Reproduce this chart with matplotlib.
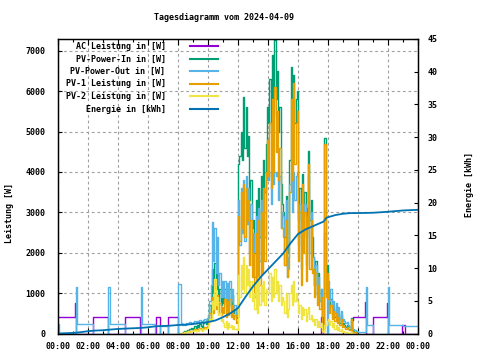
import numpy as np
import matplotlib.pyplot as plt

plt.rcParams['font.family'] = ['DejaVu Sans Mono']
plt.rcParams['font.weight'] = 'bold'

title = "Tagesdiagramm vom 2024-04-09"
labels = ["AC Leistung in [W]", "PV-Power-In in [W]", "PV-Power-Out in [W]",
          "PV-1 Leistung in [W]", "PV-2 Leistung in [W]", "Energie in [kWh]"]
colors = ["#9400d3", "#009e73", "#56b4e9", "#e69f00", "#f0e442", "#0072b2"]
xtick_hours = list(range(0, 25, 2))
xtick_labels = ["00:00", "02:00", "04:00", "06:00", "08:00", "10:00", "12:00",
                "14:00", "16:00", "18:00", "20:00", "22:00", "00:00"]

# AC power, change points (hour, W)
ac_t = [0.0, 1.1, 1.18, 2.35, 3.35, 4.45, 5.45, 6.5, 6.8, 7.3, 8.0,
        17.55, 17.67, 19.58, 19.68, 20.47, 20.55,
        21.0, 21.95, 22.03, 22.95, 23.1, 24.0]
ac_w = [400, 760, 0, 400, 0, 400, 0, 400, 0, 400, 0,
        420, 0, 330, 400, 780, 0,
        400, 760, 0, 210, 0, 0]

# PV-Power-Out outside of the 5-min day block
out_am_t = [0.0, 0.07, 1.18, 1.26, 2.35, 3.35, 3.45, 4.45, 5.5, 5.62, 6.45, 6.8, 7.3]
out_am_w = [230, 0, 1150, 225, 0, 1150, 230, 0, 1150, 225, 0, 180, 0]
out_pm_t = [20.0, 20.5, 20.58, 21.0, 21.97, 22.07, 23.0, 24.0]
out_pm_w = [40, 1150, 210, 0, 1150, 215, 180, 180]

# 5-minute values from 08:00 to 19:55 (one row per hour)
day_start = 8.0
pv_in = [
    0, 0, 0, 20, 40, 60, 70, 90, 90, 100, 130, 110,
    140, 180, 130, 210, 160, 230, 190, 160, 250, 280, 230, 320,
    350, 700, 500, 1600, 1000, 1750, 1100, 1500, 800, 1100, 700, 950,
    750, 1100, 650, 1050, 700, 1100, 650, 950, 500, 600, 380, 420,
    4200, 4400, 5000, 4300, 5850, 4600, 5600, 4400, 4900, 3300, 3800, 2600,
    2800, 2000, 3300, 1900, 3600, 2400, 3900, 3000, 4300, 3500, 4700, 5600,
    5200, 6300, 5000, 6900, 5400, 7275, 5800, 6500, 5000, 5600, 3700, 3200,
    3000, 2400, 3400, 2000, 2200, 4300, 6600, 5000, 6400, 5200, 5800, 6000,
    2800, 3600, 2400, 3950, 2900, 3500, 2400, 3100, 4525, 2800, 3300, 2400,
    1900, 1200, 1800, 950, 1500, 800, 1100, 150, 100, 4850, 1100, 1700,
    1000, 650, 850, 450, 650, 400, 600, 300, 500, 250, 450, 200,
    250, 200, 150, 200, 120, 100, 380, 80, 60, 40, 30, 20,
]
pv_out = [
    1230, 1230, 250, 220, 240, 210, 260, 230, 250, 280, 240, 260,
    280, 300, 260, 320, 290, 340, 310, 280, 330, 360, 300, 380,
    450, 800, 1200, 2750, 1800, 2600, 1500, 2400, 1200, 1500, 900, 1300,
    900, 1300, 800, 1250, 850, 1300, 800, 1100, 650, 700, 450, 500,
    3300, 2200, 3600, 2500, 3800, 2300, 3900, 2700, 3600, 2000, 3200, 1700,
    2500, 1400, 2900, 1300, 3100, 1800, 3300, 2100, 3600, 2400, 3800, 4000,
    3800, 4000, 3200, 4100, 3700, 4000, 3900, 4000, 3300, 3900, 2600, 3000,
    2900, 1700, 3300, 1400, 1900, 3700, 4000, 3000, 4000, 3300, 3900, 4000,
    2200, 3200, 1600, 3500, 2400, 3200, 1700, 2900, 3900, 2000, 3000, 1900,
    1900, 1200, 1700, 1000, 1400, 800, 1100, 100, 50, 2500, 1100, 0,
    1300, 800, 1100, 600, 800, 500, 750, 400, 650, 350, 550, 300,
    350, 300, 250, 280, 200, 150, 300, 120, 100, 80, 60, 50,
]
pv1 = [
    0, 0, 0, 10, 20, 30, 40, 50, 40, 60, 70, 60,
    80, 100, 70, 120, 90, 130, 110, 90, 140, 160, 130, 180,
    250, 500, 300, 900, 500, 1000, 600, 950, 500, 750, 450, 650,
    500, 850, 400, 800, 450, 850, 400, 700, 350, 450, 250, 300,
    2900, 2300, 3500, 2600, 3700, 2400, 3600, 2800, 3300, 1700, 2800, 1400,
    2000, 900, 2500, 800, 2800, 1200, 3000, 1500, 3600, 1800, 4000, 4800,
    3900, 5200, 3600, 5800, 4000, 6100, 4500, 5500, 3800, 4600, 2600, 2600,
    2400, 1700, 2800, 1400, 1600, 3500, 5800, 3800, 6200, 4200, 5200, 5500,
    1800, 3000, 1200, 3700, 2000, 3000, 1300, 2600, 4200, 1600, 2800, 1500,
    1600, 900, 1500, 700, 1200, 600, 900, 50, 30, 4700, 900, 1500,
    850, 500, 700, 350, 550, 300, 500, 250, 400, 200, 350, 150,
    200, 150, 120, 150, 100, 80, 350, 60, 40, 30, 20, 10,
]
pv2 = [
    0, 0, 0, 10, 20, 30, 30, 40, 50, 40, 60, 50,
    60, 80, 60, 90, 70, 100, 80, 70, 110, 120, 100, 140,
    200, 350, 300, 800, 600, 1350, 700, 900, 450, 500, 300, 350,
    250, 150, 300, 120, 250, 150, 200, 100, 180, 120, 100, 80,
    1450, 900, 1700, 1100, 1900, 1000, 1700, 1200, 1600, 900, 1300, 800,
    1000, 600, 1300, 500, 1400, 700, 1200, 800, 1300, 700, 1100, 1000,
    1000, 1500, 800, 1400, 900, 1600, 1000, 1300, 800, 1200, 700, 900,
    800, 500, 1000, 400, 600, 1000, 1200, 700, 1300, 800, 1000, 800,
    500, 700, 350, 650, 450, 600, 300, 500, 650, 350, 450, 300,
    350, 200, 350, 150, 300, 150, 250, 50, 30, 200, 200, 300,
    350, 200, 300, 150, 250, 100, 200, 80, 150, 60, 120, 40,
    60, 40, 30, 40, 20, 10, 30, 10, 0, 0, 0, 0,
]

# daily energy (hour, kWh)
energy_t = [0.0, 1.1, 1.5, 2.0, 2.5, 3.0, 3.5, 4.0, 4.5, 5.0, 5.5, 6.0, 6.5, 7.0,
            7.5, 8.0, 8.5, 9.0, 9.5, 10.0, 10.5, 11.0, 11.5, 12.0, 12.5, 13.0,
            13.5, 14.0, 14.5, 15.0, 15.5, 16.0, 16.5, 17.0, 17.5, 17.7, 17.9,
            18.2, 18.5, 19.0, 19.5, 20.0, 21.0, 22.0, 23.0, 24.0]
energy_kwh = [0.0, 0.1, 0.2, 0.35, 0.45, 0.5, 0.6, 0.7, 0.75, 0.8, 0.85, 0.95,
              1.1, 1.15, 1.2, 1.3, 1.35, 1.45, 1.6, 1.75, 2.0, 2.5, 3.1, 3.9,
              5.6, 7.2, 8.6, 9.8, 11.0, 12.2, 13.8, 15.2, 15.9, 16.4, 16.9,
              17.1, 17.7, 17.9, 18.1, 18.3, 18.4, 18.4, 18.45, 18.6, 18.8, 18.9]

day_t = day_start + np.arange(len(pv_in)) / 12.0
out_t = np.concatenate([out_am_t, day_t, out_pm_t])
out_w = np.concatenate([out_am_w, pv_out, out_pm_w])

W, H = 480, 360
fig = plt.figure(figsize=(4.8, 3.6), dpi=100)
ax = fig.add_axes([58 / W, 1 - 333.5 / H, 360 / W, (333.5 - 39) / H])
ax2 = ax.twinx()

lw = 1.0
h_ac, = ax.plot(ac_t, ac_w, drawstyle='steps-post', color=colors[0], lw=lw)
h_in, = ax.plot(day_t, pv_in, drawstyle='steps-post', color=colors[1], lw=lw)
h_out, = ax.plot(out_t, out_w, drawstyle='steps-post', color=colors[2], lw=lw)
h_p1, = ax.plot(day_t, pv1, drawstyle='steps-post', color=colors[3], lw=lw)
h_p2, = ax.plot(day_t, pv2, drawstyle='steps-post', color=colors[4], lw=lw)
h_en, = ax2.plot(energy_t, energy_kwh, color=colors[5], lw=1.3)

ax.set_xlim(0, 24)
ax.set_ylim(0, 7290)
ax2.set_ylim(0, 45)

ax.set_xticks(xtick_hours)
ax.set_xticklabels(xtick_labels)
ax.set_xticks(range(1, 24, 2), minor=True)
ax.set_yticks(range(0, 7001, 1000))
ax2.set_yticks(range(0, 46, 5))

ax.set_axisbelow(True)
ax.grid(True, which='major', color='#a0a0a0', linestyle=(0, (2.5, 2.5)), lw=0.8)

ax.tick_params(axis='x', which='major', direction='in', top=True, length=4,
               width=0.8, labelsize=6, pad=6)
ax.tick_params(axis='x', which='minor', direction='in', top=True, length=2, width=0.8)
ax.tick_params(axis='y', direction='in', length=3, width=0.8, labelsize=6, pad=9)
ax2.tick_params(axis='y', direction='in', length=3, width=0.8, labelsize=6, pad=7)
for a in (ax, ax2):
    for s in a.spines.values():
        s.set_linewidth(0.9)

fig.text(223.5 / W, 1 - 18 / H, title, ha='center', va='center', fontsize=6)
fig.text(10 / W, 1 - 213 / H, "Leistung [W]", rotation=90,
         ha='center', va='center', fontsize=6)
fig.text(470 / W, 1 - 185 / H, "Energie [kWh]", rotation=90,
         ha='center', va='center', fontsize=6)

handles = [h_ac, h_in, h_out, h_p1, h_p2, h_en]
leg = ax.legend(handles, labels, loc='upper right', markerfirst=False,
                bbox_to_anchor=(218 / W, 1 - 42 / H), bbox_transform=fig.transFigure,
                frameon=False, fontsize=6, handlelength=3.4, handletextpad=2.9,
                labelspacing=0.42, borderpad=0, borderaxespad=0)
for l in leg.get_lines():
    l.set_linewidth(1.5)

fig.savefig("out.png", dpi=100)
